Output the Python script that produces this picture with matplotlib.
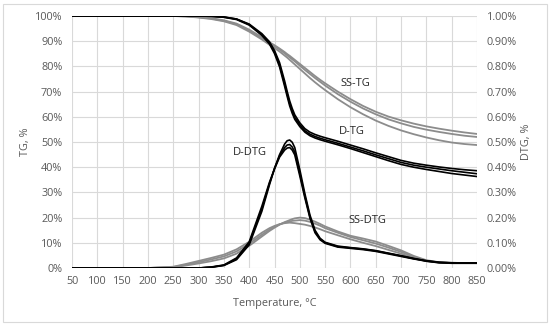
import matplotlib
matplotlib.use("Agg")
from matplotlib import pyplot as plt
from matplotlib.patches import Rectangle
from matplotlib.ticker import FuncFormatter
import numpy as np

# temperature grid, deg C
temp = [50, 100, 150, 200, 250, 275, 300, 325, 350, 375, 400, 425, 440, 450, 460, 470, 475, 480, 485, 490,
        500, 510, 520, 530, 540, 550, 575, 600, 625, 650, 675, 700, 725, 750, 775, 800, 825, 850]

# D-TG (black), %
d_tg1 = [100, 100, 100, 100, 100, 100, 100, 99.9, 99.6, 98.8, 96.8, 93.0, 89.8, 86.3, 81.5, 74.2, 70.1, 66.3, 63.3, 60.8,
         57.6, 55.3, 53.9, 53.0, 52.3, 51.7, 50.3, 48.8, 47.3, 45.7, 44.2, 42.7, 41.6, 40.8, 40.1, 39.5, 39.0, 38.6]
d_tg2 = [100, 100, 100, 100, 100, 100, 100, 99.9, 99.6, 98.8, 96.6, 92.6, 89.3, 85.7, 80.6, 73.0, 69.0, 65.2, 62.3, 59.8,
         56.8, 54.5, 53.1, 52.2, 51.5, 50.9, 49.5, 48.0, 46.5, 44.9, 43.4, 41.9, 40.8, 40.0, 39.3, 38.6, 38.0, 37.4]
d_tg3 = [100, 100, 100, 100, 100, 100, 100, 99.9, 99.5, 98.6, 96.4, 92.3, 88.9, 85.1, 79.8, 72.1, 68.1, 64.3, 61.4, 59.0,
         56.1, 53.9, 52.5, 51.6, 50.9, 50.3, 48.9, 47.4, 45.8, 44.2, 42.6, 41.1, 40.0, 39.1, 38.3, 37.5, 36.9, 36.3]

# SS-TG (grey), %
ss_tg1 = [100, 100, 100, 100, 100, 99.9, 99.6, 99.1, 98.3, 97.0, 94.6, 91.6, 89.6, 88.4, 87.1, 85.7, 84.9, 84.2, 83.4, 82.6,
          81.0, 79.4, 77.8, 76.2, 74.7, 73.3, 70.0, 67.0, 64.3, 62.0, 60.1, 58.6, 57.3, 56.2, 55.3, 54.5, 53.8, 53.2]
ss_tg2 = [100, 100, 100, 100, 100, 99.9, 99.5, 99.0, 98.1, 96.7, 94.2, 91.2, 89.2, 88.0, 86.7, 85.2, 84.4, 83.6, 82.8, 82.0,
          80.3, 78.6, 77.0, 75.4, 73.9, 72.4, 69.0, 66.0, 63.3, 61.0, 59.0, 57.4, 56.0, 54.9, 54.0, 53.2, 52.5, 52.0]
ss_tg3 = [100, 100, 100, 100, 100, 99.8, 99.4, 98.8, 97.9, 96.4, 93.8, 90.7, 88.6, 87.3, 85.9, 84.3, 83.5, 82.6, 81.7, 80.8,
          79.0, 77.2, 75.4, 73.7, 72.1, 70.6, 67.0, 63.8, 61.0, 58.5, 56.4, 54.6, 53.1, 51.8, 50.7, 49.8, 49.2, 48.8]

# D-DTG (black), %
d_dtg1 = [0, 0, 0, 0, 0, 0, 0, 0.003, 0.010, 0.033, 0.092, 0.225, 0.330, 0.395, 0.450, 0.492, 0.505, 0.508, 0.499, 0.478,
          0.390, 0.295, 0.210, 0.150, 0.118, 0.102, 0.087, 0.081, 0.076, 0.069, 0.059, 0.049, 0.038, 0.029, 0.023, 0.021, 0.020, 0.020]
d_dtg2 = [0, 0, 0, 0, 0, 0, 0, 0.003, 0.011, 0.036, 0.098, 0.235, 0.335, 0.395, 0.445, 0.478, 0.488, 0.490, 0.480, 0.460,
          0.375, 0.285, 0.203, 0.145, 0.115, 0.100, 0.085, 0.080, 0.075, 0.068, 0.058, 0.048, 0.037, 0.028, 0.022, 0.020, 0.020, 0.020]
d_dtg3 = [0, 0, 0, 0, 0, 0, 0, 0.004, 0.012, 0.040, 0.104, 0.245, 0.340, 0.393, 0.440, 0.468, 0.476, 0.478, 0.468, 0.449,
          0.365, 0.278, 0.198, 0.140, 0.112, 0.098, 0.083, 0.078, 0.073, 0.066, 0.056, 0.046, 0.036, 0.027, 0.021, 0.019, 0.019, 0.019]

# SS-DTG (grey), %
ss_dtg1 = [0, 0, 0, 0, 0.003, 0.010, 0.018, 0.027, 0.038, 0.057, 0.088, 0.125, 0.147, 0.160, 0.172, 0.182, 0.186, 0.190, 0.194, 0.197,
           0.200, 0.198, 0.192, 0.184, 0.175, 0.165, 0.145, 0.128, 0.117, 0.105, 0.088, 0.070, 0.048, 0.031, 0.023, 0.020, 0.020, 0.020]
ss_dtg2 = [0, 0, 0, 0, 0.004, 0.013, 0.023, 0.034, 0.046, 0.066, 0.096, 0.132, 0.152, 0.163, 0.173, 0.180, 0.183, 0.185, 0.187, 0.188,
           0.190, 0.188, 0.183, 0.176, 0.168, 0.158, 0.140, 0.123, 0.110, 0.097, 0.081, 0.064, 0.044, 0.029, 0.022, 0.020, 0.020, 0.020]
ss_dtg3 = [0, 0, 0, 0, 0.005, 0.016, 0.028, 0.040, 0.053, 0.074, 0.104, 0.140, 0.158, 0.167, 0.174, 0.178, 0.179, 0.180, 0.179, 0.178,
           0.175, 0.172, 0.167, 0.161, 0.154, 0.146, 0.130, 0.114, 0.100, 0.087, 0.072, 0.057, 0.040, 0.027, 0.021, 0.019, 0.019, 0.019]

plt.rcParams['font.family'] = ['Open Sans', 'DejaVu Sans']
txt = '#595959'
black = '#000000'
grey = '#8c8c8c'

fig = plt.figure(figsize=(5.5, 3.26), dpi=100)
fig.patches.append(Rectangle((0.006, 0.012), 0.988, 0.976, transform=fig.transFigure,
                             fill=False, edgecolor='#d9d9d9', linewidth=0.8))
ax = fig.add_axes([0.1309, 0.1779, 0.8673 - 0.1309, 0.9509 - 0.1779])
ax2 = ax.twinx()

for s in [ss_tg1, ss_tg2, ss_tg3]:
    ax.plot(temp, s, color=grey, lw=1.3, zorder=3)
for s in [d_tg1, d_tg2, d_tg3]:
    ax.plot(temp, s, color=black, lw=1.2, zorder=4)
for s in [ss_dtg1, ss_dtg2, ss_dtg3]:
    ax2.plot(temp, s, color=grey, lw=1.3, zorder=3)
for s in [d_dtg1, d_dtg2, d_dtg3]:
    ax2.plot(temp, s, color=black, lw=1.2, zorder=4)

ax.set_xlim(50, 850)
ax.set_ylim(0, 100)
ax2.set_ylim(0, 1.0)
ax.set_xticks(np.arange(50, 851, 50))
ax.set_yticks(np.arange(0, 101, 10))
ax2.set_yticks(np.arange(0, 1.01, 0.1))
ax.yaxis.set_major_formatter(FuncFormatter(lambda v, p: '%d%%' % round(v)))
ax2.yaxis.set_major_formatter(FuncFormatter(lambda v, p: '%.2f%%' % v))
ax.grid(True, color='#d9d9d9', lw=0.8)
ax.set_axisbelow(True)
for a in (ax, ax2):
    for sp in a.spines.values():
        sp.set_visible(False)
    a.tick_params(length=0, labelsize=7.8, labelcolor=txt, pad=7)
ax.tick_params(axis='x', pad=6)

ax.set_xlabel('Temperature, °C', fontsize=7.8, color=txt, labelpad=8)
ax.set_ylabel('TG, %', fontsize=7.8, color=txt, labelpad=3)
ax2.set_ylabel('DTG, %', fontsize=7.8, color=txt, labelpad=3)

ax.text(609, 73.4, 'SS-TG', fontsize=8, color='#262626', ha='center', va='center')
ax.text(603, 54, 'D-TG', fontsize=8, color='#262626', ha='center', va='center')
ax2.text(401, 0.46, 'D-DTG', fontsize=8, color='#262626', ha='center', va='center')
ax2.text(633, 0.19, 'SS-DTG', fontsize=8, color='#262626', ha='center', va='center')

fig.savefig('out.png', dpi=100)
